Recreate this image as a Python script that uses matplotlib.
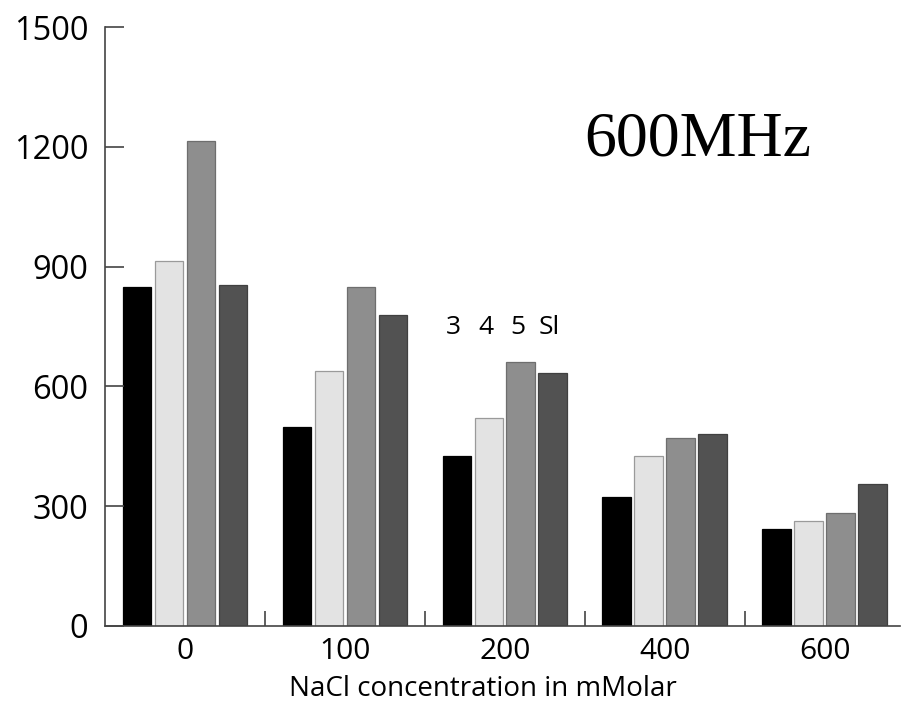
import numpy as np
import matplotlib.pyplot as plt

# NaCl concentration groups and the four series (3, 4, 5, Sl)
categories = ['0', '100', '200', '400', '600']
series_names = ['3', '4', '5', 'Sl']
s3 = [850, 498, 426, 322, 242]
s4 = [915, 638, 522, 425, 263]
s5 = [1215, 849, 661, 470, 284]
sl = [853, 778, 633, 481, 355]

colors = ['#000000', '#e3e3e3', '#8e8e8e', '#525252']
edges = ['#000000', '#9a9a9a', '#6e6e6e', '#404040']

fig = plt.figure(figsize=(9.01, 7.03), dpi=100)
ax = fig.add_axes([105 / 901, 77 / 703, 795 / 901, 599 / 703])

x = np.arange(len(categories))
step = 0.2
width = 0.18
for i, vals in enumerate([s3, s4, s5, sl]):
    ax.bar(x + (i - 1.5) * step, vals, width, color=colors[i],
           edgecolor=edges[i], linewidth=0.9)

# series labels above the 200 group
for i, name in enumerate(series_names):
    ax.text(2 + (i - 1.5) * step - 0.02, 748, name, ha='center', va='center',
            fontsize=19, family='Open Sans')

ax.text(0.745, 0.81, '600MHz', transform=ax.transAxes, ha='center', va='center',
        fontsize=46, family='Liberation Serif')

ax.set_xlim(-0.5, 4.47)
ax.set_ylim(0, 1500)
ax.set_yticks([0, 300, 600, 900, 1200, 1500])
ax.set_xticks(x)
ax.set_xticklabels(categories)
ax.set_xticks(x[:-1] + 0.5, minor=True)

for side in ['top', 'right']:
    ax.spines[side].set_visible(False)
for side in ['left', 'bottom']:
    ax.spines[side].set_color('#444444')
    ax.spines[side].set_linewidth(1.2)

ax.tick_params(axis='y', direction='in', length=14, width=1.2, color='#444444',
               labelsize=23.5, pad=12)
ax.tick_params(axis='x', which='major', length=0, labelsize=21.5, pad=8)
ax.tick_params(axis='x', which='minor', direction='in', length=11, width=1.2,
               color='#444444')
for lab in ax.get_xticklabels() + ax.get_yticklabels():
    lab.set_family('Open Sans')

ax.set_xlabel('NaCl concentration in mMolar', fontsize=20, family='Open Sans')
ax.xaxis.set_label_coords(0.475, -0.082)

fig.savefig('out.png', dpi=100)
